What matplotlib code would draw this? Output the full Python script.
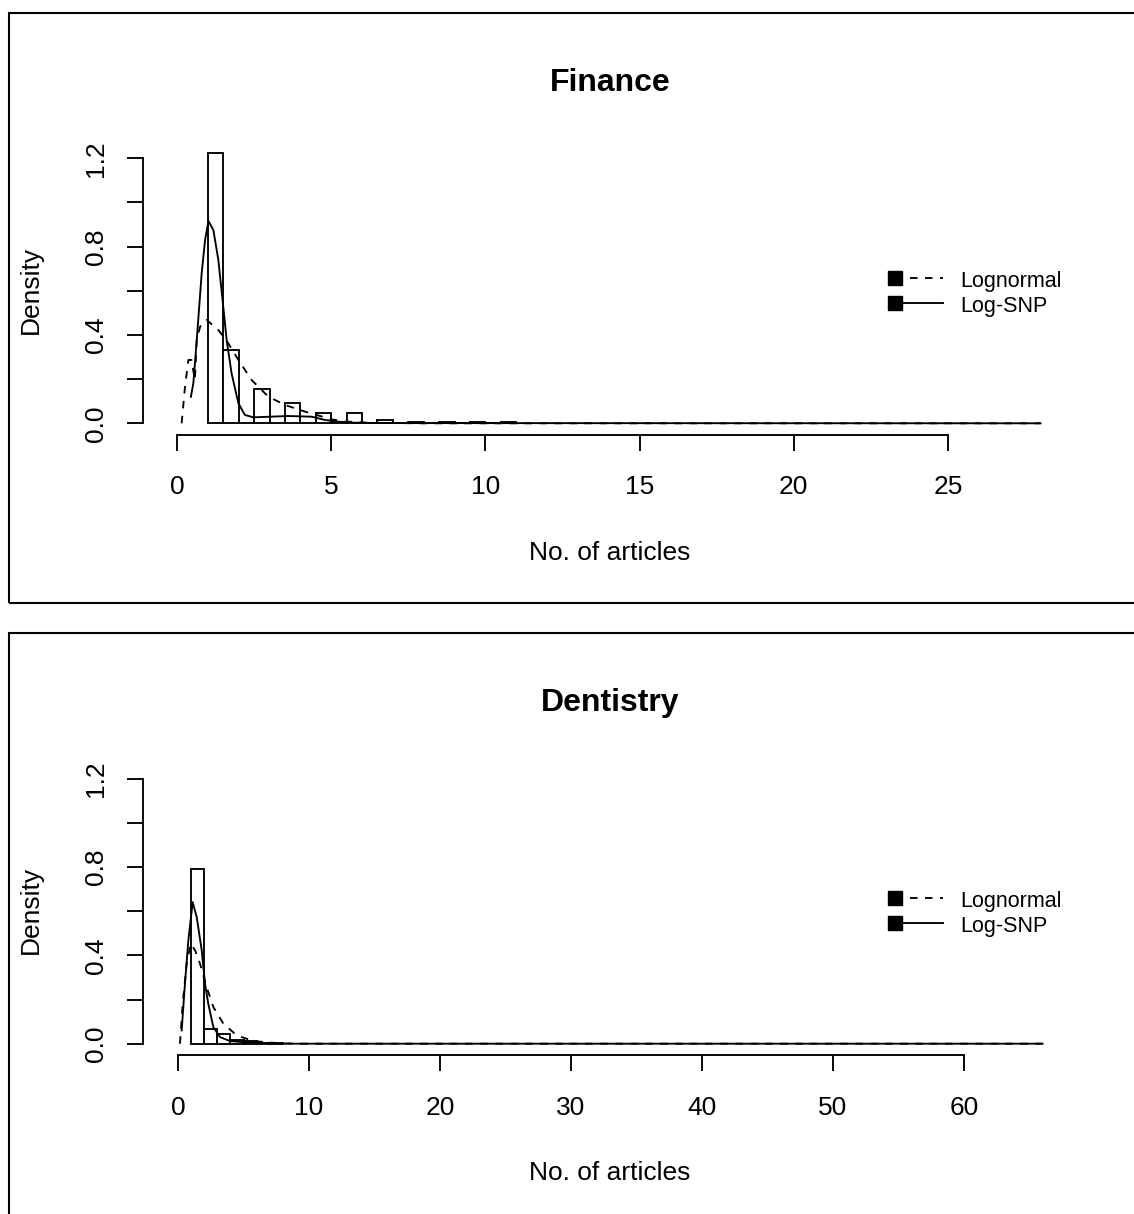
import matplotlib.pyplot as plt
from matplotlib.patches import Rectangle
from matplotlib.lines import Line2D

plt.rcParams['font.family'] = ['Liberation Sans', 'DejaVu Sans']

# Finance: histogram (bin width 0.5) and fitted densities
fin_bin_left = [1.0, 1.5, 2.0, 2.5, 3.0, 3.5, 4.0, 4.5, 5.0, 5.5,
                6.0, 6.5, 7.0, 7.5, 8.0, 8.5, 9.0, 9.5, 10.0, 10.5]
fin_density = [1.226, 0.333, 0.0, 0.155, 0.0, 0.09, 0.0, 0.045, 0.004, 0.045,
               0.003, 0.015, 0.0, 0.005, 0.0, 0.004, 0.0, 0.004, 0.0, 0.004]
fin_lognormal_x = [0.15, 0.26, 0.37, 0.47, 0.58, 0.64, 0.75, 0.96, 1.34, 1.66,
                   1.99, 2.42, 2.96, 3.5, 4.15, 5.01, 5.44, 6.3, 8.0, 28.0]
fin_lognormal_y = [0.0, 0.166, 0.287, 0.287, 0.196, 0.377, 0.438, 0.468, 0.423, 0.363,
                   0.287, 0.196, 0.121, 0.083, 0.053, 0.018, 0.008, 0.002, 0.0, 0.0]
fin_snp_x = [0.45, 0.53, 0.64, 0.8, 0.91, 1.02, 1.18, 1.34, 1.5, 1.61, 1.77,
             1.99, 2.2, 2.47, 3.6, 4.36, 4.8, 5.44, 6.3, 28.0]
fin_snp_y = [0.12, 0.181, 0.377, 0.679, 0.83, 0.916, 0.875, 0.74, 0.528, 0.377, 0.226,
             0.091, 0.038, 0.027, 0.033, 0.03, 0.015, 0.004, 0.001, 0.0]

# Dentistry: histogram (bin width 1) and fitted densities
den_bin_left = [1, 2, 3, 4, 5, 6, 7]
den_density = [0.792, 0.068, 0.045, 0.018, 0.01, 0.005, 0.003]
den_lognormal_x = [0.15, 0.36, 0.66, 0.97, 1.3, 1.68, 2.19, 2.7, 3.46, 4.48, 5.75, 7.5, 9.0, 66.0]
den_lognormal_y = [0.0, 0.181, 0.362, 0.453, 0.423, 0.362, 0.256, 0.166, 0.091, 0.038, 0.012, 0.003, 0.0, 0.0]
den_snp_x = [0.28, 0.53, 0.79, 1.12, 1.43, 1.81, 2.06, 2.31, 2.7, 3.2, 3.97, 5.24, 8.0, 66.0]
den_snp_y = [0.06, 0.272, 0.468, 0.641, 0.573, 0.423, 0.272, 0.181, 0.075, 0.03, 0.012, 0.006, 0.0, 0.0]

W, H = 1134, 1214
fig = plt.figure(figsize=(W / 100, H / 100), dpi=100)

DASH = (0, (4, 4))
LW = 1.35


def fx(x):
    return x / W


def fy(y):
    return 1 - y / H


def draw_panel(dy, title, x0, sx, xticks, bin_left, dens, width, lx, ly, sx_, sy_):
    # panel border
    fig.add_artist(Rectangle((fx(8.5), fy(dy + 603.3)), fx(1150 - 8.5), (603.3 - 12.5) / H,
                             transform=fig.transFigure, fill=False, lw=1.5, ec='black'))
    base = dy + 423.3
    sy = 220.8
    left, right, bottom, top = 143, 1060, dy + 435, dy + 140
    ax = fig.add_axes([fx(left), fy(bottom), (right - left) / W, (bottom - top) / H])
    ax.set_xlim((left - x0) / sx, (right - x0) / sx)
    ax.set_ylim((base - bottom) / sy, (base - top) / sy)

    ax.bar(bin_left, dens, width=width, align='edge', facecolor='white',
           edgecolor='black', linewidth=LW, zorder=2)
    ax.plot(lx, ly, color='black', lw=LW, linestyle=DASH, zorder=3)
    ax.plot(sx_, sy_, color='black', lw=LW, zorder=3)

    for s in ['top', 'right']:
        ax.spines[s].set_visible(False)
    ax.spines['left'].set_bounds(0, 1.2)
    ax.spines['bottom'].set_bounds(xticks[0], xticks[-1])
    for s in ['left', 'bottom']:
        ax.spines[s].set_linewidth(LW)

    yt = [0.0, 0.2, 0.4, 0.6, 0.8, 1.0, 1.2]
    ax.set_yticks(yt)
    ax.set_yticklabels(['0.0', '', '0.4', '', '0.8', '', '1.2'], rotation=90, va='center')
    ax.set_xticks(xticks)
    ax.set_xticklabels([str(t) for t in xticks])
    ax.tick_params(axis='both', length=11.5, width=LW, labelsize=19)
    ax.tick_params(axis='x', pad=17.5)
    ax.tick_params(axis='y', pad=14)

    fig.text(fx(610), fy(dy + 83), title, fontsize=23, fontweight='bold',
             ha='center', va='center')
    fig.text(fx(610), fy(dy + 553), 'No. of articles', fontsize=19,
             ha='center', va='center')
    fig.text(fx(31), fy(dy + 290), 'Density', fontsize=19, rotation=90,
             ha='center', va='center')

    # legend
    rows = [('Lognormal', DASH, dy + 278), ('Log-SNP', '-', dy + 303)]
    for label, ls, yy in rows:
        fig.add_artist(Line2D([fx(895), fx(943)], [fy(yy), fy(yy)], transform=fig.transFigure,
                              color='black', lw=LW, linestyle=ls))
        fig.add_artist(Line2D([fx(895)], [fy(yy)], transform=fig.transFigure,
                              marker='s', markersize=9.5, color='black', linestyle='none'))
        fig.text(fx(960), fy(yy + 9), label, fontsize=15.5, ha='left', va='baseline')
    return ax


draw_panel(0, 'Finance', 177, 30.84, [0, 5, 10, 15, 20, 25],
           fin_bin_left, fin_density, 0.5,
           fin_lognormal_x, fin_lognormal_y, fin_snp_x, fin_snp_y)
draw_panel(620.4, 'Dentistry', 178, 13.1, [0, 10, 20, 30, 40, 50, 60],
           den_bin_left, den_density, 1.0,
           den_lognormal_x, den_lognormal_y, den_snp_x, den_snp_y)

fig.savefig('out.png', dpi=100)
